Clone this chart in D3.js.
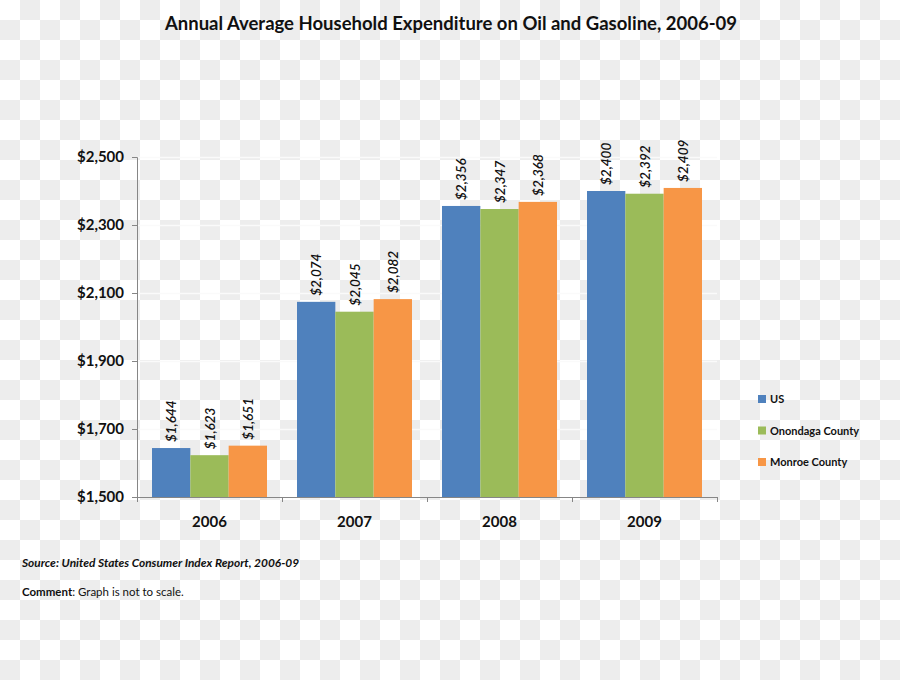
<!DOCTYPE html>
<html><head><meta charset="utf-8">
<script src="https://cdn.jsdelivr.net/npm/d3@7"></script>
<style>
html,body{margin:0;padding:0;}
svg{display:block;font-family:Lato,"Open Sans",sans-serif;}
</style></head>
<body>
<svg id="chart" width="900" height="680"></svg>
<script>
const categories = ["2006","2007","2008","2009"];
const seriesNames = ["US","Onondaga County","Monroe County"];
const usValues = [1644, 2074, 2356, 2400];
const onondagaValues = [1623, 2045, 2347, 2392];
const monroeValues = [1651, 2082, 2368, 2409];
const yTicks = [1500, 1700, 1900, 2100, 2300, 2500];
const colors = ["#4f81bd","#9bbb59","#f79646"];

(function(){
const series = [usValues, onondagaValues, monroeValues];
const svg = d3.select("#chart");

// checkerboard background (transparency pattern)
const defs = svg.append("defs");
const pat = defs.append("pattern").attr("id","chk").attr("patternUnits","userSpaceOnUse")
  .attr("width",40).attr("height",40);
pat.append("rect").attr("width",40).attr("height",40).attr("fill","#ffffff");
pat.append("rect").attr("x",20).attr("y",0).attr("width",20).attr("height",20).attr("fill","#ededed");
pat.append("rect").attr("x",0).attr("y",20).attr("width",20).attr("height",20).attr("fill","#ededed");
svg.append("rect").attr("width",900).attr("height",680).attr("fill","url(#chk)");

const mLeft = 137, mRight = 717, mTop = 157, mBottom = 497;
const x = d3.scaleBand().domain(categories).range([mLeft,mRight]).paddingInner(0.207).paddingOuter(0.1035);
const x0 = d3.scaleBand().domain(categories).range([mLeft,mRight]);
const xs = d3.scaleBand().domain(d3.range(3)).range([0,x.bandwidth()]);
const y = d3.scaleLinear().domain([1500,2500]).range([mBottom,mTop]);

// gridlines
svg.append("g").selectAll("line").data(yTicks.slice(1)).join("line")
  .attr("x1",mLeft).attr("x2",mRight).attr("y1",d=>y(d)+0.5).attr("y2",d=>y(d)+0.5)
  .attr("stroke","#fafafa").attr("stroke-width",1.5);

// title
svg.append("text").attr("x",451).attr("y",30).attr("text-anchor","middle")
  .attr("font-weight","bold").attr("font-size",18.5).attr("fill","#111")
  .text("Annual Average Household Expenditure on Oil and Gasoline, 2006-09");

// bars
const groups = svg.append("g").selectAll("g").data(categories).join("g")
  .attr("transform",d=>`translate(${x(d)},0)`);
groups.each(function(cat,ci){
  const g = d3.select(this);
  series.forEach((vals,si)=>{
    g.append("rect").attr("x",xs(si)).attr("y",y(vals[ci]))
      .attr("width",xs.bandwidth()).attr("height",y(1500)-y(vals[ci]))
      .attr("fill",colors[si]);
    const lx = xs(si)+xs.bandwidth()/2+5, ly = y(vals[ci])-6;
    g.append("text").attr("transform",`translate(${lx},${ly}) rotate(-90)`)
      .attr("font-size",13.5).attr("font-style","italic").attr("font-weight",600).attr("fill","#111")
      .text(d3.format("$,")(vals[ci]));
  });
});

// y axis
const yAxis = svg.append("g").attr("transform",`translate(${mLeft},0)`)
  .call(d3.axisLeft(y).tickValues(yTicks).tickSize(5).tickPadding(8).tickFormat(d3.format("$,")));
yAxis.select(".domain").attr("stroke","#868686");
yAxis.selectAll(".tick line").attr("stroke","#868686");
yAxis.selectAll("text").attr("font-size",15).attr("font-weight","bold").attr("fill","#111")
  .attr("font-family","Lato,sans-serif");

// x axis
const xAxis = svg.append("g").attr("transform",`translate(0,${mBottom})`);
xAxis.append("line").attr("x1",mLeft).attr("x2",mRight).attr("y1",0.5).attr("y2",0.5).attr("stroke","#868686");
const bounds = categories.map(c=>x0(c)).concat([mRight]);
xAxis.selectAll("line.tk").data(bounds).join("line").attr("class","tk")
  .attr("x1",d=>d+0.5).attr("x2",d=>d+0.5).attr("y1",0).attr("y2",5).attr("stroke","#868686");
xAxis.selectAll("text").data(categories).join("text")
  .attr("x",d=>x0(d)+x0.bandwidth()/2).attr("y",30).attr("text-anchor","middle")
  .attr("font-size",15).attr("font-weight","bold").attr("fill","#111").text(d=>d);

// legend
const legend = svg.append("g").selectAll("g").data(seriesNames).join("g")
  .attr("transform",(d,i)=>`translate(758,${395+i*31.5})`);
legend.append("rect").attr("width",8).attr("height",8).attr("fill",(d,i)=>colors[i]);
legend.append("text").attr("x",12).attr("y",8).attr("font-size",11).attr("font-weight","bold")
  .attr("fill","#111").text(d=>d);

// footnotes
svg.append("text").attr("x",22).attr("y",567).attr("font-size",11.9).attr("font-style","italic")
  .attr("font-weight","bold").attr("fill","#111")
  .text("Source: United States Consumer Index Report, 2006-09");
const cm = svg.append("text").attr("x",22).attr("y",596).attr("font-size",11.5).attr("fill","#111");
cm.append("tspan").attr("font-weight","bold").text("Comment");
cm.append("tspan").text(": Graph is not to scale.");
})();
</script>
</body></html>
